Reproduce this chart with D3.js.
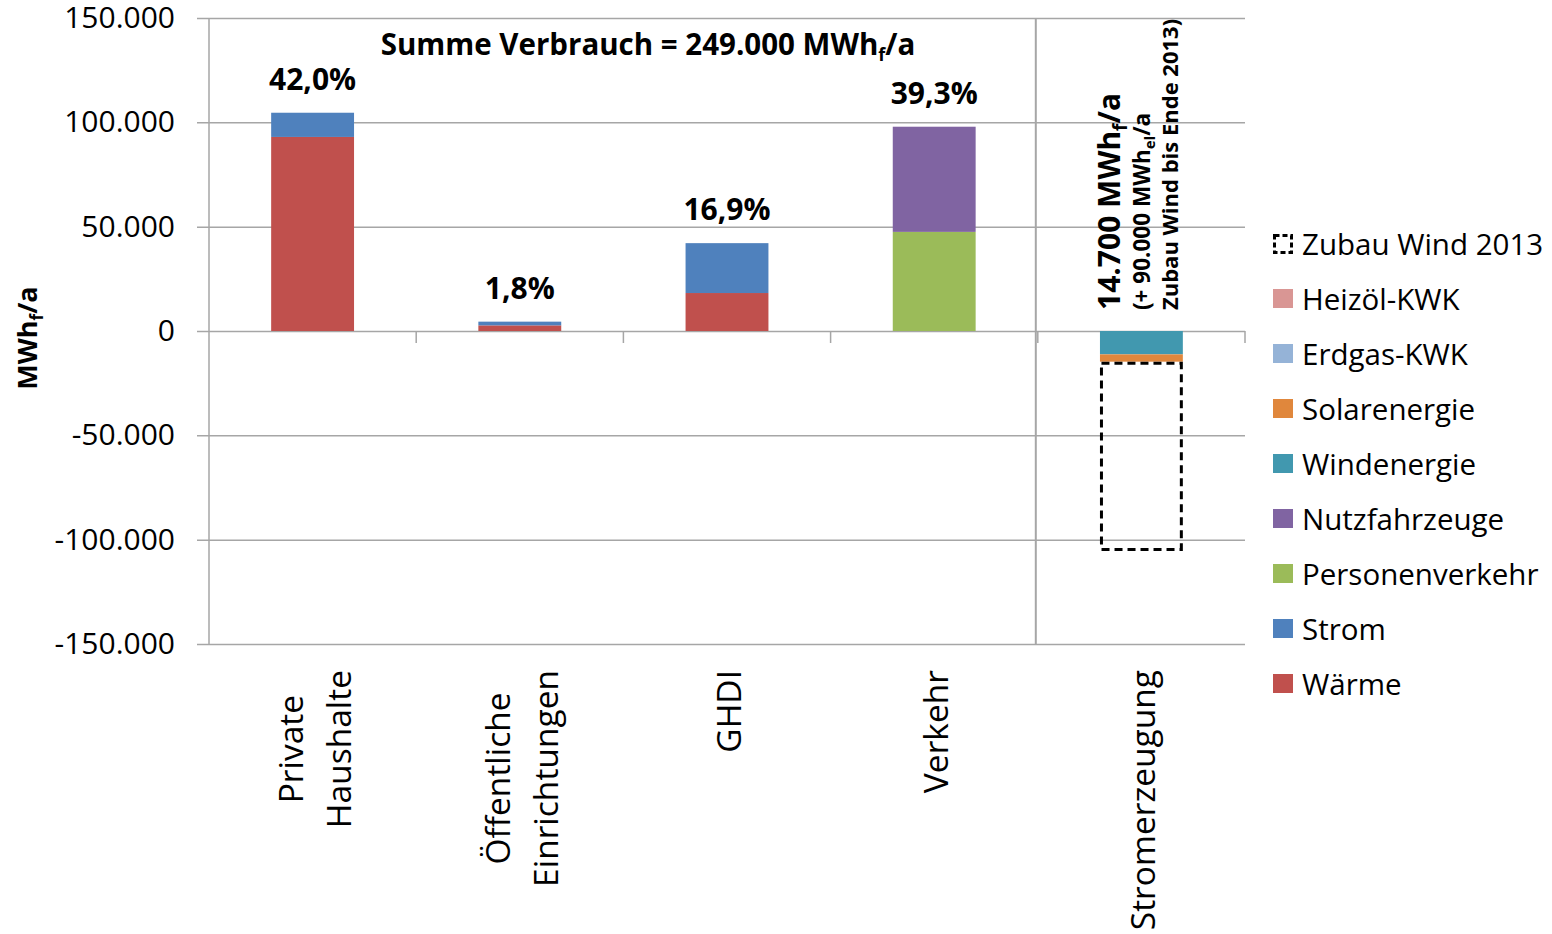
<!DOCTYPE html>
<html><head><meta charset="utf-8">
<script src="https://cdn.jsdelivr.net/npm/d3@7"></script>
<style>
body{margin:0;background:#fff;}
text{font-family:"Open Sans",Lato,sans-serif;fill:#000;}
</style></head>
<body><svg id="c" width="1552" height="934"></svg>
<script>
// ---- data ----
const categories = [["Private","Haushalte"],["Öffentliche","Einrichtungen"],["GHDI"],["Verkehr"],["Stromerzeugung"]];
const catKeys = ["Private Haushalte","Öffentliche Einrichtungen","GHDI","Verkehr","Stromerzeugung"];
const waerme = [93000, 2700, 18200, 0, 0];
const strom = [11600, 1780, 23900, 0, 0];
const personenverkehr = [0, 0, 0, 47500, 0];
const nutzfahrzeuge = [0, 0, 0, 50400, 0];
const windenergie = [0, 0, 0, 0, -11200];
const solarenergie = [0, 0, 0, 0, -3500];
const erdgasKWK = [0, 0, 0, 0, 0];
const heizoelKWK = [0, 0, 0, 0, 0];
const zubauWind = [0, 0, 0, 0, -90000];
const shareLabels = ["42,0%","1,8%","16,9%","39,3%",null];
const yTicks = [-150000,-100000,-50000,0,50000,100000,150000];
const seriesNames = ["Wärme","Strom","Personenverkehr","Nutzfahrzeuge","Windenergie","Solarenergie","Erdgas-KWK","Heizöl-KWK"];
const seriesColors = ["#c0504d","#4f81bd","#9bbb59","#8064a2","#4198af","#e0873c","#95b3d7","#d99694"];
const seriesValues = [waerme,strom,personenverkehr,nutzfahrzeuge,windenergie,solarenergie,erdgasKWK,heizoelKWK];

const svg = d3.select("#c");
const y = d3.scaleLinear().domain([-150000,150000]).range([644,18]);
const x = d3.scaleBand().domain(catKeys).range([209,1245]).paddingInner(0.6).paddingOuter(0.3);
const fmt = v => d3.format(",")(v).replace(/,/g,".").replace("\u2212","-");

// gridlines + y axis
const yAxis = d3.axisLeft(y).tickValues(yTicks).tickFormat(fmt).tickSize(12).tickPadding(22);
const gy = svg.append("g").attr("transform","translate(209,0)").call(yAxis);
gy.select(".domain").attr("stroke","#a6a6a6").attr("stroke-width",1.5).attr("d","M0,18V644");
gy.selectAll(".tick line").attr("stroke","#a6a6a6").attr("stroke-width",1.5).attr("x1",-12).attr("x2",1036);
gy.selectAll(".tick text").attr("font-size",30).attr("font-family","Open Sans").attr("fill","#000");

// category tick marks below zero
const boundaries = catKeys.slice(1).map(k => x(k) - x.step()*x.paddingInner()/2).concat([1245]);
svg.append("g").selectAll("line").data(boundaries).join("line")
  .attr("x1",d=>d).attr("x2",d=>d).attr("y1",y(0)).attr("y2",y(0)+12)
  .attr("stroke","#a6a6a6").attr("stroke-width",1.5);
// separator line before Stromerzeugung
const sep = boundaries[3]-2;
svg.append("line").attr("x1",sep).attr("x2",sep).attr("y1",18).attr("y2",644)
  .attr("stroke","#a6a6a6").attr("stroke-width",2);

// stacked bars
const rows = catKeys.map((k,i)=>{const o={cat:k}; seriesNames.forEach((s,j)=>o[s]=seriesValues[j][i]); return o;});
const stack = d3.stack().keys(seriesNames).offset(d3.stackOffsetDiverging)(rows);
stack.forEach((layer,j)=>{
  svg.append("g").attr("fill",seriesColors[j]).selectAll("rect")
    .data(layer.filter(d=>d[1]!==d[0])).join("rect")
    .attr("x",d=>x(d.data.cat)).attr("width",x.bandwidth())
    .attr("y",d=>y(Math.max(d[0],d[1]))).attr("height",d=>Math.abs(y(d[0])-y(d[1])));
});
// dashed "Zubau Wind" box below the existing generation
const negBase = catKeys.map((k,i)=>seriesValues.reduce((a,s)=>a+Math.min(0,s[i]),0));
svg.append("g").selectAll("rect").data(catKeys.map((k,i)=>({cat:k,base:negBase[i],v:zubauWind[i]})).filter(d=>d.v!==0))
  .join("rect")
  .attr("x",d=>x(d.cat)+1.5).attr("width",x.bandwidth()-3)
  .attr("y",d=>y(d.base)+1.5).attr("height",d=>y(d.base+d.v)-y(d.base)-1.5)
  .attr("fill","none").attr("stroke","#000").attr("stroke-width",3).attr("stroke-dasharray","8,5");

// share labels
const totals = catKeys.map((k,i)=>seriesValues.reduce((a,s)=>a+Math.max(0,s[i]),0));
svg.append("g").selectAll("text").data(catKeys.map((k,i)=>({cat:k,t:totals[i],l:shareLabels[i]})).filter(d=>d.l))
  .join("text").attr("x",d=>x(d.cat)+x.bandwidth()/2).attr("y",d=>y(d.t)-23)
  .attr("text-anchor","middle").attr("font-size",30).attr("font-weight","bold").text(d=>d.l);

// title
const t = svg.append("text").attr("x",648).attr("y",55).attr("text-anchor","middle").attr("font-size",29.5).attr("font-weight","bold");
t.append("tspan").text("Summe Verbrauch = 249.000 MWh");
t.append("tspan").attr("font-size",18).attr("dy",6).text("f");
t.append("tspan").attr("dy",-6).text("/a");

// y axis title
const yt = svg.append("text").attr("transform","translate(37,338) rotate(-90)").attr("text-anchor","middle").attr("font-size",27).attr("font-weight","bold");
yt.append("tspan").text("MWh");
yt.append("tspan").attr("font-size",17).attr("dy",6).text("f");
yt.append("tspan").attr("dy",-6).text("/a");

// x labels: block starts at a fixed top, lines centered within the block
categories.forEach((lines,i)=>{
  const cx = x(catKeys[i]) + x.bandwidth()/2;
  const n = lines.length;
  const texts = lines.map((ln,j)=>svg.append("text").attr("text-anchor","middle").attr("font-size",33.5).text(ln));
  const maxLen = d3.max(texts, s=>s.node().getComputedTextLength());
  texts.forEach((s,j)=>{
    const off = (j-(n-1)/2)*48;
    s.attr("transform",`translate(${cx+off+14},${670+maxLen/2}) rotate(-90)`);
  });
});

// Stromerzeugung annotation
const sx = x("Stromerzeugung");
const a1 = svg.append("text").attr("transform",`translate(${sx+20},310) rotate(-90)`).attr("font-size",30).attr("font-weight","bold");
a1.append("tspan").text("14.700 MWh");
a1.append("tspan").attr("font-size",19).attr("dy",7).text("f");
a1.append("tspan").attr("dy",-7).text("/a");
const a2 = svg.append("text").attr("transform",`translate(${sx+50},310) rotate(-90)`).attr("font-size",22.5).attr("font-weight","bold");
a2.append("tspan").text("(+ 90.000 MWh");
a2.append("tspan").attr("font-size",15).attr("dy",5).text("el");
a2.append("tspan").attr("dy",-5).text("/a");
svg.append("text").attr("transform",`translate(${sx+78},310) rotate(-90)`).attr("font-size",22).attr("font-weight","bold")
  .text("Zubau Wind bis Ende 2013)");

// legend
const legendItems = [{n:"Zubau Wind 2013",dashed:true}].concat(seriesNames.map((n,j)=>({n,c:seriesColors[j]})).reverse());
const lg = svg.append("g").attr("transform","translate(1273,244)");
legendItems.forEach((d,i)=>{
  const g = lg.append("g").attr("transform",`translate(0,${i*55})`);
  if(d.dashed){
    g.append("rect").attr("x",1.5).attr("y",-8.5).attr("width",17).attr("height",17)
      .attr("fill","none").attr("stroke","#000").attr("stroke-width",3).attr("stroke-dasharray","5,3");
  } else {
    g.append("rect").attr("x",0).attr("y",-10).attr("width",20).attr("height",19).attr("fill",d.c);
  }
  g.append("text").attr("x",29).attr("y",11).attr("font-size",29.5).text(d.n);
});
</script></body></html>
